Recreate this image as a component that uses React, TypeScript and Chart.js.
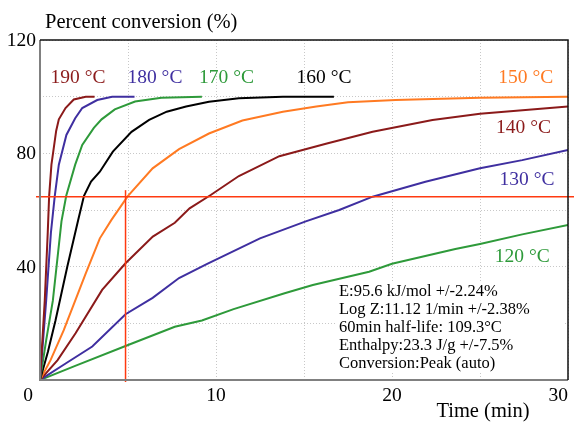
import React, { useEffect, useRef } from "react";
import { Chart, registerables } from "chart.js";

Chart.register(...registerables);

const xTickLabels = [0, 10, 20, 30];
const yTickLabels = [40, 80, 120];

const t190 = [0, 0.27, 0.44, 0.52, 0.65, 0.92, 1.07, 1.45, 1.92, 2.6, 3.1];
const c190 = [0, 28, 52, 65, 76, 88, 92, 96, 99, 100, 100];
const t180 = [0, 0.35, 0.62, 0.84, 1.07, 1.5, 2.0, 2.4, 3.25, 4.1, 5.37];
const c180 = [0, 28, 52, 65, 76, 86.5, 92.4, 96, 98.8, 100, 100];
const t170 = [0, 0.35, 0.73, 1.22, 1.49, 2.0, 2.4, 3.06, 3.5, 4.25, 5.4, 6.9, 9.2];
const c170 = [0, 14, 28, 56, 65, 76, 83, 89, 92, 95.5, 98.3, 99.6, 100];
const t160 = [0, 0.45, 0.88, 1.55, 2.17, 2.5, 2.9, 3.4, 4.14, 5.2, 6.2, 7.2, 8.3, 9.6, 11.3, 13.8, 16.7];
const c160 = [0, 10, 21, 40, 56.5, 65, 70, 73.5, 80.6, 87.6, 91.8, 94.7, 96.5, 98.2, 99.4, 100, 100];
const t150 = [0, 0.6, 1.35, 2.0, 2.6, 3.4, 4.06, 4.99, 6.4, 7.9, 9.6, 11.5, 13.8, 15.7, 17.5, 20.2, 25, 30];
const c150 = [0, 7, 17.6, 28, 37.6, 50, 56.5, 64.9, 74.7, 81.5, 87, 91.6, 94.7, 96.5, 98, 98.8, 99.6, 100];
const t140 = [0, 1, 2.02, 3.53, 4.86, 6.41, 7.66, 8.5, 9.7, 11.3, 13.6, 16.3, 18.9, 22.3, 25, 30];
const c140 = [0, 7, 16.5, 31.8, 41.2, 50.6, 55.5, 60.6, 65.3, 72, 79, 83.5, 87.6, 91.8, 94, 96.5];
const t130 = [0, 1.5, 2.97, 4.86, 6.4, 7.9, 9.5, 12.5, 15.1, 17, 18.9, 21.9, 25, 27.4, 30];
const c130 = [0, 6, 11.8, 23.2, 29, 36, 41, 50, 56, 60, 64.7, 70, 74.7, 77.6, 81.2];
const t120 = [0, 2, 4.86, 7.66, 9.2, 11, 13.9, 15.5, 18.7, 20, 23.6, 25, 27.4, 30];
const c120 = [0, 5, 12, 18.8, 21, 25, 30.6, 33.5, 38.2, 41, 46.2, 48, 51.4, 54.7];

const seriesNames = ["190 °C", "180 °C", "170 °C", "160 °C", "150 °C", "140 °C", "130 °C", "120 °C"];
const seriesColors = ["#8b1a1a", "#3f2fa0", "#2e9a3a", "#000000", "#ff7a22", "#8b1a1a", "#3f2fa0", "#2e9a3a"];
const seriesT = [t190, t180, t170, t160, t150, t140, t130, t120];
const seriesC = [c190, c180, c170, c160, c150, c140, c130, c120];

// label anchor positions in data units (center x, center y)
const labelX = [2.16, 6.53, 10.6, 16.14, 27.6, 27.47, 27.67, 27.4];
const labelY = [106.6, 106.6, 106.6, 106.6, 106.6, 88.9, 70.6, 43.4];

const markerTime = 4.86;
const markerConversion = 64.7;
const markerTop = 67;

const infoLines = [
  "E:95.6 kJ/mol +/-2.24%",
  "Log Z:11.12 1/min +/-2.38%",
  "60min half-life: 109.3°C",
  "Enthalpy:23.3 J/g +/-7.5%",
  "Conversion:Peak (auto)",
];

const yTitle = "Percent conversion (%)";
const xTitle = "Time (min)";

const SERIF = "'Liberation Serif', 'Times New Roman', serif";

export default function App() {
  const ref = useRef<HTMLCanvasElement | null>(null);

  useEffect(() => {
    const canvas = ref.current;
    if (!canvas) return;

    const overlay = {
      id: "overlay",
      afterDatasetsDraw(chart: any) {
        const ctx = chart.ctx as CanvasRenderingContext2D;
        const xs = chart.scales.x;
        const ys = chart.scales.y;
        const a = chart.chartArea;
        ctx.save();

        // red marker lines
        ctx.strokeStyle = "#ff3a10";
        ctx.lineWidth = 1.5;
        const hy = ys.getPixelForValue(markerConversion);
        ctx.beginPath();
        ctx.moveTo(a.left - 4, hy);
        ctx.lineTo(chart.width, hy);
        ctx.stroke();
        const vx = xs.getPixelForValue(markerTime);
        ctx.beginPath();
        ctx.moveTo(vx, ys.getPixelForValue(markerTop));
        ctx.lineTo(vx, ys.getPixelForValue(0) + 2);
        ctx.stroke();

        // frame
        ctx.lineWidth = 2;
        ctx.strokeStyle = "#808080";
        ctx.beginPath();
        ctx.moveTo(a.left, a.top);
        ctx.lineTo(a.left, a.bottom);
        ctx.lineTo(a.right, a.bottom);
        ctx.stroke();
        ctx.strokeStyle = "#111111";
        ctx.lineWidth = 1.5;
        ctx.beginPath();
        ctx.moveTo(a.left, a.top);
        ctx.lineTo(a.right, a.top);
        ctx.lineTo(a.right, a.bottom);
        ctx.stroke();

        // series labels
        ctx.font = `19.5px ${SERIF}`;
        ctx.textAlign = "center";
        ctx.textBaseline = "middle";
        seriesNames.forEach((n, i) => {
          ctx.fillStyle = seriesColors[i];
          ctx.fillText(n, xs.getPixelForValue(labelX[i]), ys.getPixelForValue(labelY[i]));
        });

        // info box
        ctx.font = `16.5px ${SERIF}`;
        ctx.textAlign = "left";
        ctx.textBaseline = "middle";
        const boxL = 336;
        const boxW = 227;
        const firstY = 292;
        const step = 18;
        infoLines.forEach((line, i) => {
          const cy = firstY + i * step;
          ctx.fillStyle = "#ffffff";
          ctx.fillRect(boxL, cy - 10, boxW, step);
          ctx.fillStyle = "#000000";
          ctx.fillText(line, boxL + 3, cy);
        });

        // tick labels
        ctx.fillStyle = "#000000";
        ctx.font = `19.5px ${SERIF}`;
        ctx.textAlign = "right";
        ctx.textBaseline = "middle";
        yTickLabels.forEach((v) => {
          ctx.fillText(String(v), a.left - 4, ys.getPixelForValue(v) + 1);
        });
        const ly = a.bottom + 16;
        xTickLabels.forEach((v, i) => {
          const px = xs.getPixelForValue(v);
          if (i === 0) {
            ctx.textAlign = "center";
            ctx.fillText(String(v), px - 12, ly);
          } else if (i === xTickLabels.length - 1) {
            ctx.textAlign = "right";
            ctx.fillText(String(v), px, ly);
          } else {
            ctx.textAlign = "center";
            ctx.fillText(String(v), px, ly);
          }
        });

        // titles
        ctx.font = `20.5px ${SERIF}`;
        ctx.textAlign = "left";
        ctx.fillText(yTitle, 45, 23);
        ctx.textAlign = "center";
        ctx.fillText(xTitle, 483, 412);

        ctx.restore();
      },
    };

    const chart = new Chart(canvas, {
      type: "line",
      data: {
        datasets: seriesNames.map((n, i) => ({
          label: n,
          data: seriesT[i].map((t, j) => ({ x: t, y: seriesC[i][j] })),
          borderColor: seriesColors[i],
          backgroundColor: seriesColors[i],
          borderWidth: 2,
          pointRadius: 0,
          tension: 0,
          fill: false,
        })),
      },
      options: {
        responsive: false,
        animation: false,
        devicePixelRatio: 1,
        layout: { padding: { left: 40, top: 40, right: 6, bottom: 42 } },
        plugins: { legend: { display: false }, tooltip: { enabled: false } },
        scales: {
          x: {
            type: "linear",
            min: 0,
            max: 30,
            ticks: { display: false, stepSize: 5 },
            grid: { color: "#c8c8c8", lineWidth: 1, drawTicks: false },
            border: { display: false, dash: [1, 2] },
          },
          y: {
            type: "linear",
            min: 0,
            max: 120,
            ticks: { display: false, stepSize: 20 },
            grid: { color: "#c8c8c8", lineWidth: 1, drawTicks: false },
            border: { display: false, dash: [1, 2] },
          },
        },
      },
      plugins: [overlay],
    });

    return () => chart.destroy();
  }, []);

  return (
    <div style={{ position: "fixed", left: 0, top: 0, width: 574, height: 422, background: "#fff" }}>
      <canvas ref={ref} width={574} height={422} style={{ display: "block" }} />
    </div>
  );
}
